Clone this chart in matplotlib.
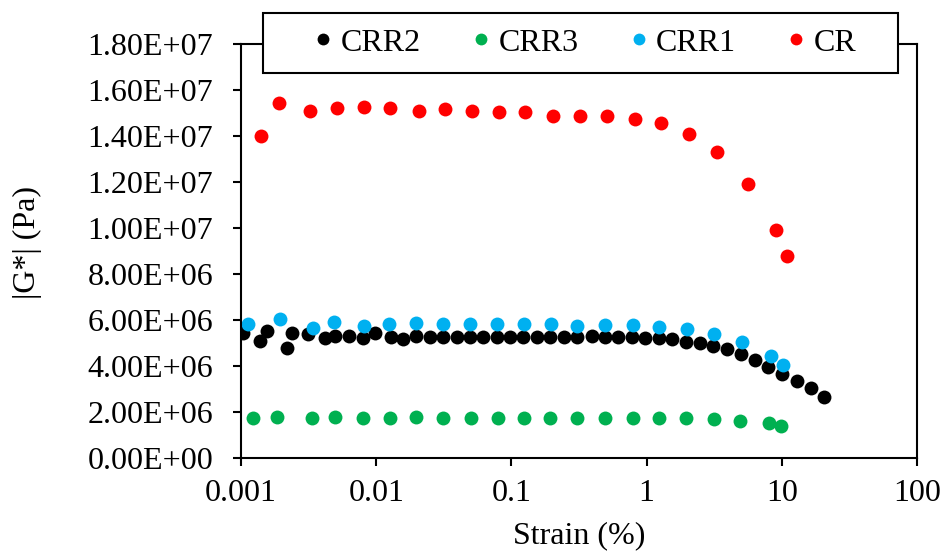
import numpy as np
import matplotlib.pyplot as plt
from matplotlib.patches import Rectangle
from matplotlib.ticker import FuncFormatter, FixedLocator, NullLocator

plt.rcParams['font.family'] = ['Liberation Serif', 'DejaVu Serif']

# strain (%) and |G*| (Pa)
crr2_x = [0.00103, 0.00138, 0.00157, 0.00218, 0.00237, 0.00315, 0.00418, 0.00496, 0.00633, 0.00803,
          0.0098, 0.0128, 0.0159, 0.0196, 0.025, 0.0313, 0.0394, 0.0494, 0.0619, 0.0778,
          0.0977, 0.122, 0.154, 0.193, 0.243, 0.304, 0.393, 0.492, 0.618, 0.776,
          0.973, 1.24, 1.55, 1.95, 2.48, 3.11, 3.91, 4.97, 6.34, 7.94,
          9.98, 13.0, 16.4, 20.5]
crr2_y = [5.42, 5.10, 5.54, 4.77, 5.42, 5.39, 5.2, 5.3, 5.3, 5.2,
          5.42, 5.25, 5.16, 5.3, 5.25, 5.25, 5.25, 5.25, 5.25, 5.25,
          5.25, 5.25, 5.25, 5.25, 5.25, 5.25, 5.3, 5.25, 5.25, 5.25,
          5.2, 5.2, 5.16, 5.06, 5.01, 4.87, 4.72, 4.52, 4.26, 3.97,
          3.65, 3.36, 3.03, 2.67]

crr3_x = [0.00123, 0.00184, 0.00333, 0.00496, 0.00803, 0.0127, 0.0196, 0.0314, 0.05, 0.079,
          0.124, 0.193, 0.304, 0.492, 0.788, 1.24, 1.97, 3.14, 4.93, 8.0, 9.9]
crr3_y = [1.73, 1.80, 1.73, 1.80, 1.73, 1.73, 1.80, 1.73, 1.73, 1.73,
          1.73, 1.73, 1.73, 1.73, 1.73, 1.73, 1.73, 1.68, 1.62, 1.51, 1.39]

crr1_x = [0.00113, 0.00194, 0.00339, 0.00487, 0.00817, 0.0125, 0.0196, 0.0314, 0.0494, 0.078,
          0.124, 0.195, 0.304, 0.492, 0.788, 1.24, 1.98, 3.16, 5.05, 8.27, 10.2]
crr1_y = [5.83, 6.04, 5.65, 5.93, 5.75, 5.83, 5.88, 5.83, 5.83, 5.83,
          5.83, 5.83, 5.75, 5.78, 5.78, 5.71, 5.6, 5.39, 5.06, 4.43, 4.04]

cr_x = [0.00141, 0.00191, 0.00326, 0.00512, 0.0081, 0.0127, 0.0206, 0.0321, 0.0508, 0.081,
        0.127, 0.204, 0.323, 0.507, 0.815, 1.28, 2.06, 3.33, 5.6, 9.14, 11.0]
cr_y = [14.0, 15.45, 15.1, 15.2, 15.27, 15.2, 15.1, 15.16, 15.1, 15.04,
        15.04, 14.87, 14.87, 14.87, 14.75, 14.55, 14.09, 13.32, 11.91, 9.91, 8.8]

series = [("CRR2", crr2_x, crr2_y, "#000000"),
          ("CRR3", crr3_x, crr3_y, "#00B050"),
          ("CRR1", crr1_x, crr1_y, "#00B0F0"),
          ("CR", cr_x, cr_y, "#FF0000")]

fs = 23

fig = plt.figure(figsize=(9.4, 5.54), dpi=100)
ax = fig.add_axes([0.2564, 0.1733, 0.7191, 0.7473])

for name, xs, ys, c in series:
    ax.plot(xs, np.array(ys) * 1e6, linestyle='none', marker='o', markersize=10,
            color=c, markeredgewidth=0, label=name)

ax.set_xscale('log')
ax.set_xlim(0.001, 100)
ax.set_ylim(0, 1.8e7)
ax.xaxis.set_major_locator(FixedLocator([0.001, 0.01, 0.1, 1, 10, 100]))
ax.xaxis.set_minor_locator(NullLocator())
ax.xaxis.set_major_formatter(FuncFormatter(lambda v, p: ('%g' % v)))
ax.set_yticks(np.arange(0, 1.81e7, 2e6))
ax.yaxis.set_major_formatter(FuncFormatter(lambda v, p: '{:.2E}'.format(v)))

for s in ax.spines.values():
    s.set_linewidth(1.5)
ax.tick_params(direction='out', length=6, width=1.5, labelsize=fs)
ax.tick_params(axis='y', pad=14)
ax.tick_params(axis='x', pad=9)

ax.set_xlabel("Strain (%)", fontsize=fs, labelpad=10)
ax.set_ylabel("|G*| (Pa)", fontsize=fs)
ax.yaxis.set_label_coords(-0.294, 0.52)

# legend box straddling the top spine
box = Rectangle((0.2798, 0.8682), 0.6755, 0.1083, transform=fig.transFigure,
                facecolor='white', edgecolor='black', linewidth=1.5, zorder=4)
fig.patches.append(box)
leg = fig.legend(loc='center', bbox_to_anchor=(0.619, 0.9224), ncol=4, fontsize=fs,
                 frameon=False, markerscale=0.85, handletextpad=0.05,
                 columnspacing=1.38, borderpad=0, handlelength=1.0)
leg.set_zorder(6)

fig.savefig("out.png", dpi=100)
